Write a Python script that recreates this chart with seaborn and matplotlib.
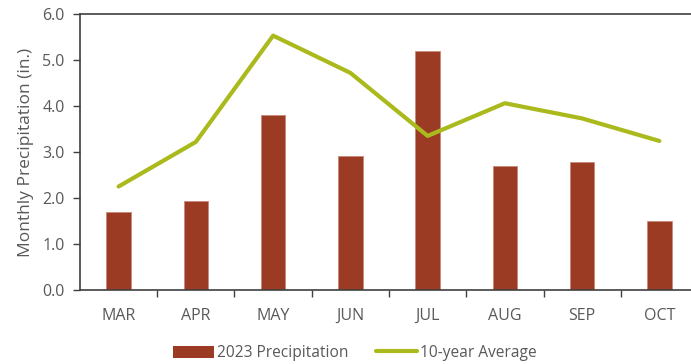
import matplotlib
matplotlib.use("Agg")
import matplotlib.pyplot as plt
import seaborn as sns
import numpy as np
import pandas as pd
from matplotlib.ticker import FixedLocator, MultipleLocator, FormatStrFormatter
from matplotlib.patches import Patch
from matplotlib.lines import Line2D

months = ["MAR", "APR", "MAY", "JUN", "JUL", "AUG", "SEP", "OCT"]
precip_2023 = [1.70, 1.93, 3.80, 2.91, 5.20, 2.69, 2.78, 1.49]
ten_year_avg = [2.25, 3.22, 5.53, 4.72, 3.35, 4.06, 3.73, 3.24]

BAR_COLOR = "#9B3B23"
LINE_COLOR = "#AABA1C"
TEXT_COLOR = "#595959"
AXIS_COLOR = "#404040"

sns.set_theme(style="white")
plt.rcParams["font.family"] = ["Open Sans", "DejaVu Sans"]

df = pd.DataFrame({"month": months, "precip": precip_2023, "avg": ten_year_avg})

fig = plt.figure(figsize=(6.91, 3.64), dpi=100)
W, H = 691, 364
ax = fig.add_axes([80 / W, (H - 290) / H, 618 / W, 276 / H])

sns.barplot(data=df, x="month", y="precip", color=BAR_COLOR, width=0.32,
            edgecolor="#C98878", linewidth=0.6, saturation=1, ax=ax)
sns.lineplot(data=df, x="month", y="avg", color=LINE_COLOR, linewidth=3.0,
             ax=ax, solid_capstyle="round")

ax.set_xlim(-0.5, len(months) - 0.5)
ax.set_ylim(0, 6.0)
ax.yaxis.set_major_locator(MultipleLocator(1.0))
ax.yaxis.set_major_formatter(FormatStrFormatter("%.1f"))

ax.set_xlabel("")
ax.set_ylabel("Monthly Precipitation (in.)", fontsize=12.5, color=TEXT_COLOR, labelpad=6)

# category labels without tick marks; boundary ticks between months
ax.tick_params(axis="x", which="major", length=0, pad=13, labelsize=11.5, labelcolor=TEXT_COLOR)
ax.xaxis.set_minor_locator(FixedLocator(np.arange(0.5, len(months) - 0.5, 1.0)))
ax.tick_params(axis="x", which="minor", length=5, width=1, color=AXIS_COLOR, direction="out", bottom=True)
ax.tick_params(axis="y", which="major", length=5, width=1, color=AXIS_COLOR, direction="out",
               left=True, labelsize=11.5, labelcolor=TEXT_COLOR, pad=6)

for side in ["left", "bottom", "top"]:
    ax.spines[side].set_visible(True)
    ax.spines[side].set_color(AXIS_COLOR)
    ax.spines[side].set_linewidth(1.2)
ax.spines["right"].set_visible(False)

handles = [Patch(facecolor=BAR_COLOR, edgecolor="none"),
           Line2D([0], [0], color=LINE_COLOR, linewidth=3.0)]
fig.legend(handles, ["2023 Precipitation", "10-year Average"], loc="center",
           bbox_to_anchor=(355 / W, 1 - 353 / H), ncol=2, frameon=False,
           fontsize=11.2, labelcolor=TEXT_COLOR, handlelength=2.6, handleheight=0.8,
           handletextpad=0.2, columnspacing=1.8)

fig.savefig("out.png", dpi=100)
